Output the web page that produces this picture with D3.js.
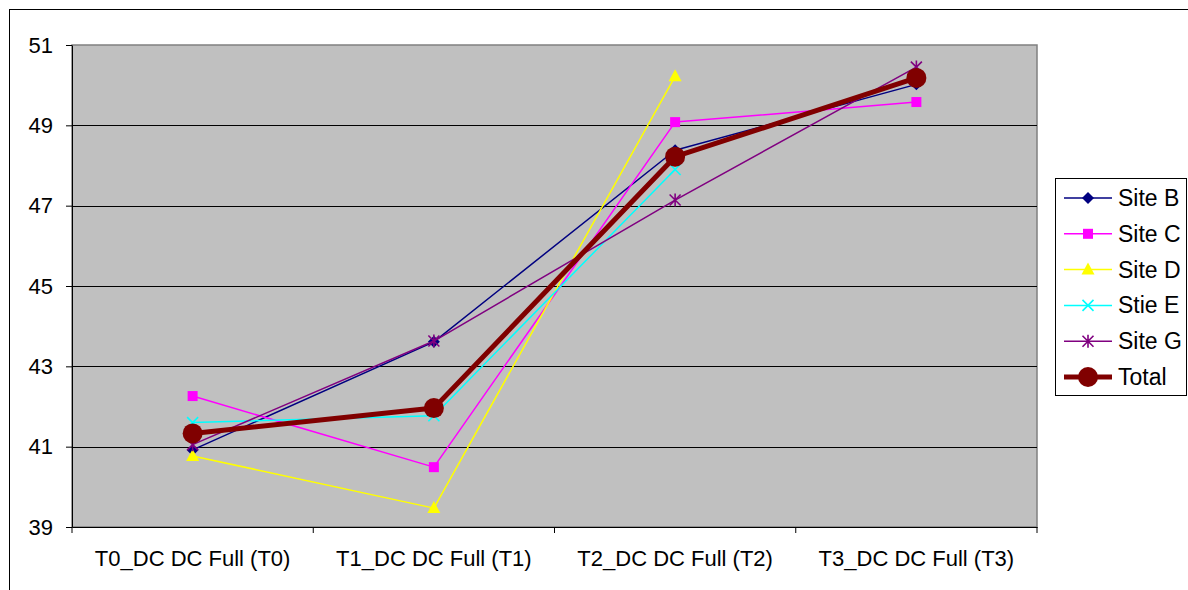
<!DOCTYPE html>
<html><head><meta charset="utf-8">
<script src="https://cdn.jsdelivr.net/npm/d3@7"></script>
<style>body{margin:0;background:#fff;} svg{display:block;font-family:"Liberation Sans",Arial,sans-serif;}</style>
</head><body>
<svg id="c" width="1188" height="590"></svg>
<script>
const categories = ["T0_DC DC Full (T0)", "T1_DC DC Full (T1)", "T2_DC DC Full (T2)", "T3_DC DC Full (T3)"];
const seriesNames = ["Site B", "Site C", "Site D", "Stie E", "Site G", "Total"];
const siteB = [40.92, 43.61, 48.38, 50.02];
const siteC = [42.26, 40.49, 49.08, 49.58];
const siteD = [40.77, 39.47, 50.22, null];
const siteE = [41.6, 41.77, 47.9, null];
const siteG = [41.05, 43.63, 47.14, 50.45];
const total = [41.33, 41.96, 48.22, 50.18];
const yTicks = [39, 41, 43, 45, 47, 49, 51];
const colors = ["#000080", "#FF00FF", "#FFFF00", "#00FFFF", "#800080", "#800000"];
const markers = ["diamond", "square", "triangle", "x", "star", "circle"];

const series = [siteB, siteC, siteD, siteE, siteG, total].map((v, i) => ({name: seriesNames[i], values: v, color: colors[i], marker: markers[i], total: i === 5}));

const FONT = "Liberation Sans, Arial, sans-serif";
const svg = d3.select("#c");
const L = 72, T = 45, R = 1037, B = 527;
const x = d3.scaleBand().domain(categories).range([L, R]);
const y = d3.scaleLinear().domain([39, 51]).range([B, T]);

// outer border
svg.append("rect").attr("x", 9.5).attr("y", 9.5).attr("width", 1200).attr("height", 600)
  .attr("fill", "#fff").attr("stroke", "#000").attr("stroke-width", 1);

// plot area
svg.append("rect").attr("x", L).attr("y", T).attr("width", R - L).attr("height", B - T)
  .attr("fill", "#C0C0C0").attr("stroke", "#808080").attr("stroke-width", 1.5);

// gridlines
svg.append("g").selectAll("line").data(yTicks.filter(t => t > 39 && t < 51)).join("line")
  .attr("x1", L).attr("x2", R).attr("y1", d => Math.round(y(d)) + 0.5).attr("y2", d => Math.round(y(d)) + 0.5)
  .attr("stroke", "#000").attr("stroke-width", 1);

// y axis
const ya = svg.append("g").attr("transform", `translate(${L},0)`)
  .call(d3.axisLeft(y).tickValues(yTicks).tickSize(6).tickSizeOuter(0).tickPadding(13));
ya.select(".domain").attr("stroke", "#000");
ya.selectAll("text").attr("font-size", 22).attr("fill", "#000").style("font-family", FONT);

// x axis
const xa = svg.append("g").attr("transform", `translate(0,${B})`)
  .call(d3.axisBottom(x).tickSize(0).tickSizeOuter(0).tickPadding(23));
xa.select(".domain").attr("stroke", "#000");
xa.selectAll("text").attr("font-size", 22).attr("fill", "#000").style("font-family", FONT);
// category boundary ticks
const bounds = categories.map(c => x(c)).concat([x(categories[3]) + x.bandwidth()]);
xa.append("g").selectAll("line").data(bounds).join("line")
  .attr("x1", d => d).attr("x2", d => d).attr("y1", 0).attr("y2", 6).attr("stroke", "#000");

const cx = c => x(c) + x.bandwidth() / 2;

function drawMarker(g, type, color, px, py) {
  if (type === "diamond") {
    g.append("path").attr("d", `M${px},${py-6}L${px+6},${py}L${px},${py+6}L${px-6},${py}Z`).attr("fill", color);
  } else if (type === "square") {
    g.append("rect").attr("x", px - 5).attr("y", py - 5).attr("width", 10).attr("height", 10).attr("fill", color);
  } else if (type === "triangle") {
    g.append("path").attr("d", `M${px},${py-7}L${px+6.5},${py+5}L${px-6.5},${py+5}Z`).attr("fill", color);
  } else if (type === "x") {
    g.append("path").attr("d", `M${px-5.5},${py-5.5}L${px+5.5},${py+5.5}M${px-5.5},${py+5.5}L${px+5.5},${py-5.5}`).attr("stroke", color).attr("stroke-width", 1.6);
  } else if (type === "star") {
    g.append("path").attr("d", `M${px-5.5},${py-5.5}L${px+5.5},${py+5.5}M${px-5.5},${py+5.5}L${px+5.5},${py-5.5}M${px},${py-6.5}L${px},${py+6.5}`).attr("stroke", color).attr("stroke-width", 1.6);
  } else if (type === "circle") {
    g.append("circle").attr("cx", px).attr("cy", py).attr("r", 10).attr("fill", color);
  }
}

const line = d3.line().defined(d => d.v != null).x(d => cx(d.c)).y(d => y(d.v));
series.forEach(s => {
  const pts = s.values.map((v, i) => ({c: categories[i], v}));
  const g = svg.append("g");
  g.append("path").datum(pts).attr("d", line).attr("fill", "none").attr("stroke", s.color)
    .attr("stroke-width", s.total ? 5 : 1.5).attr("stroke-linejoin", "round");
  pts.filter(p => p.v != null).forEach(p => drawMarker(g, s.marker, s.color, cx(p.c), y(p.v)));
});

// legend
const lg = svg.append("g");
lg.append("rect").attr("x", 1055.5).attr("y", 178.5).attr("width", 131).attr("height", 217)
  .attr("fill", "#fff").attr("stroke", "#000").attr("stroke-width", 1);
series.forEach((s, i) => {
  const ly = 198 + i * 35.8;
  lg.append("line").attr("x1", 1064).attr("x2", 1112).attr("y1", ly).attr("y2", ly)
    .attr("stroke", s.color).attr("stroke-width", s.total ? 5 : 1.5);
  drawMarker(lg, s.marker, s.color, 1088, ly);
  lg.append("text").attr("x", 1118).attr("y", ly).attr("dy", "0.35em").attr("font-size", 23)
    .style("font-family", FONT).text(s.name);
});
</script>
</body></html>
